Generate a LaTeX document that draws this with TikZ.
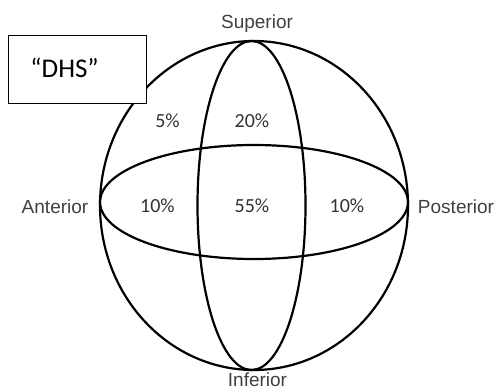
\documentclass[tikz,border=0pt]{standalone}
\usepackage{fontspec}
\setmainfont{Liberation Sans}
\newfontfamily\calfont{Carlito}
\begin{document}
\begin{tikzpicture}[x=1pt,y=-1pt,
  line/.style={draw=black,line width=2.2pt},
  lab/.style={inner sep=0pt,anchor=base,text=black!75,font=\fontsize{19}{19}\selectfont},
  pct/.style={inner sep=0pt,anchor=base,text=black!80,font=\calfont\fontsize{20}{20}\selectfont},
  box/.style={draw=black,line width=1pt,fill=white,minimum width=138pt,minimum height=68pt,inner sep=0pt}]
\useasboundingbox[fill=white] (0,0) rectangle (495,391);
% sphere and meridians
\draw[line] (254,205.5) ellipse [x radius=154, y radius=164.5];
\draw[line] (254,202) ellipse [x radius=154, y radius=57];
\draw[line] (251.5,205.5) ellipse [x radius=54, y radius=164.5];
% direction labels
\node[lab] (sup) at (257,28) {Superior};
\node[lab] (ant) at (55,213) {Anterior};
\node[lab] (post) at (456,213) {Posterior};
\node[lab] (inf) at (257.5,386.5) {Inferior};
% percentages
\node[pct] (p5) at (167.5,127) {5\%};
\node[pct] (p20) at (252,127) {20\%};
\node[pct] (p10a) at (157.5,212) {10\%};
\node[pct] (p55) at (252,212) {55\%};
\node[pct] (p10p) at (347,212) {10\%};
% DHS box
\node[box] (dhsbox) at (77,69) {};
\node[inner sep=0pt,anchor=base,text=black,font=\calfont\fontsize{27}{27}\selectfont] (dhs) at (64.5,77) {“DHS”};
\end{tikzpicture}
\end{document}
